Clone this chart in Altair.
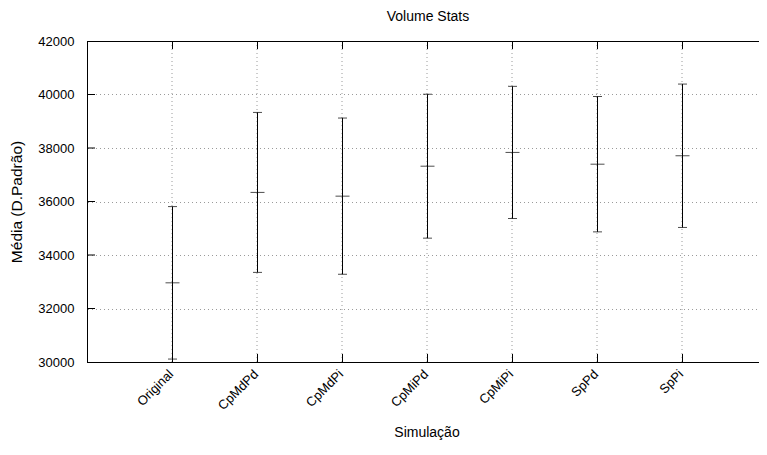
import altair as alt
import pandas as pd

# Data
names = ["Original", "CpMdPd", "CpMdPi", "CpMiPd", "CpMiPi", "SpPd", "SpPi"]
means = [32960, 36340, 36200, 37320, 37835, 37395, 37710]
sds = [2850, 2990, 2920, 2690, 2470, 2530, 2680]
y_ticks = [30000, 32000, 34000, 36000, 38000, 40000, 42000]

df = pd.DataFrame({"sim": names, "mean": means, "sd": sds})
df["lower"] = df["mean"] - df["sd"]
df["upper"] = df["mean"] + df["sd"]
ytick_df = pd.DataFrame({"v": y_ticks[1:-1]})
one = pd.DataFrame({"k": [0]})

FONT = "Liberation Sans"
W, H = 672, 321          # visible plot area (right edge runs off the page)
XR = 680                 # full x range (8 slots of 85 px)
INK = "#000000"

xscale = alt.Scale(domain=names, padding=1, range=[0.5, XR + 0.5])
yscale = alt.Scale(domain=[30000, 42000], nice=False, zero=False)

x_enc = alt.X(
    "sim:N",
    scale=xscale,
    sort=names,
    axis=alt.Axis(
        title="Simulação",
        labelAngle=-45,
        labelAlign="right",
        labelBaseline="top",
        labelPadding=6,
        labelOffset=-5,
        ticks=False,
        domain=False,
        grid=True,
        gridDash=[1, 3],
        gridColor="#9a9a9a",
        translate=0,
        titleX=340,
        titleY=75,
        titleBaseline="alphabetic",
    ),
)

y_axis = alt.Axis(
    title="Média (D.Padrão)",
    values=y_ticks,
    format="d",
    labelPadding=13,
    ticks=False,
    domain=False,
    grid=True,
    gridDash=[1, 3],
    gridColor="#9a9a9a",
    titleX=-71,
    titleY=H / 2,
    titleBaseline="middle",
    titleFontSize=15.5,
)

bars = alt.Chart(df).mark_rule(color=INK, strokeWidth=1).encode(
    x=x_enc,
    y=alt.Y("lower:Q", scale=yscale, axis=y_axis),
    y2="upper:Q",
)

cap_lo = alt.Chart(df).mark_tick(color=INK, size=9, thickness=1).encode(
    x=alt.X("sim:N", scale=xscale, sort=names),
    y=alt.Y("lower:Q", scale=yscale),
)
cap_hi = alt.Chart(df).mark_tick(color=INK, size=9, thickness=1).encode(
    x=alt.X("sim:N", scale=xscale, sort=names),
    y=alt.Y("upper:Q", scale=yscale),
)
mean_tick = alt.Chart(df).mark_tick(color=INK, size=14, thickness=1).encode(
    x=alt.X("sim:N", scale=xscale, sort=names),
    y=alt.Y("mean:Q", scale=yscale),
)

# inward ticks (gnuplot style)
ytk = alt.Chart(ytick_df).mark_rule(color=INK, strokeWidth=1).encode(
    y=alt.Y("v:Q", scale=yscale),
    x=alt.value(0),
    x2=alt.value(8),
)
xtk_bottom = alt.Chart(df).mark_rule(color=INK, strokeWidth=1).encode(
    x=alt.X("sim:N", scale=xscale, sort=names),
    y=alt.value(H - 8),
    y2=alt.value(H),
)
xtk_top = alt.Chart(df).mark_rule(color=INK, strokeWidth=1).encode(
    x=alt.X("sim:N", scale=xscale, sort=names),
    y=alt.value(0),
    y2=alt.value(8),
)

# plot border (left, top, bottom; right edge is off the page)
b_left = alt.Chart(one).mark_rule(color="black", strokeWidth=1).encode(
    x=alt.value(0.5), y=alt.value(0), y2=alt.value(H)
)
b_top = alt.Chart(one).mark_rule(color="black", strokeWidth=1).encode(
    y=alt.value(0.5), x=alt.value(0), x2=alt.value(XR)
)
b_bottom = alt.Chart(one).mark_rule(color="black", strokeWidth=1).encode(
    y=alt.value(H + 0.5), x=alt.value(0), x2=alt.value(XR)
)

chart = (
    alt.layer(bars, cap_lo, cap_hi, mean_tick, ytk, xtk_bottom, xtk_top,
              b_left, b_top, b_bottom)
    .properties(
        width=W,
        height=H,
        background="white",
        title=alt.TitleParams("Volume Stats", fontSize=14, font=FONT,
                              fontWeight="normal", color=INK, offset=11, dx=5),
        autosize=alt.AutoSizeParams(type="none"),
        padding={"left": 79, "top": 33, "right": 0, "bottom": 78},
    )
    .configure_view(stroke=None)
    .configure_axis(
        labelFont=FONT,
        labelFontSize=13,
        labelColor=INK,
        titleFont=FONT,
        titleFontSize=14,
        titleFontWeight="normal",
        titleColor=INK,
    )
)

chart.save("out.html", embed_options={"renderer": "svg", "actions": False})
